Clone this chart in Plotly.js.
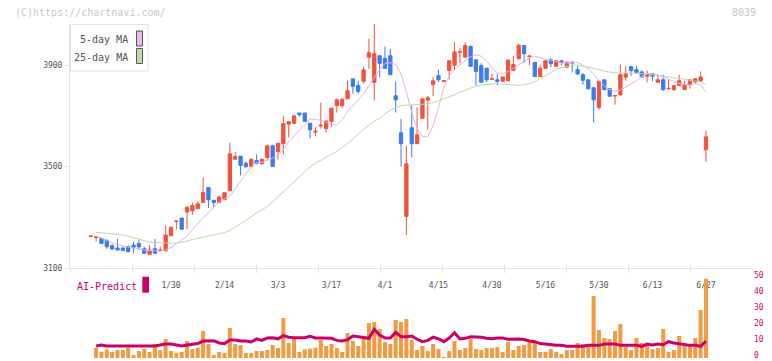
<!DOCTYPE html>
<html><head><meta charset="utf-8">
<script src="https://cdn.plot.ly/plotly-3.0.1.min.js"></script>
<style>html,body{margin:0;padding:0;background:#fff}#chart{width:772px;height:361px}</style>
</head><body><div id="chart"></div>
<script>
const dates = ['1/8','1/9','1/10','1/14','1/15','1/16','1/17','1/20','1/21','1/22','1/23','1/24','1/27','1/28','1/29','1/30','1/31',
'2/3','2/4','2/5','2/6','2/7','2/10','2/12','2/13','2/14','2/17','2/18','2/19','2/20','2/21','2/25','2/26','2/27','2/28',
'3/3','3/4','3/5','3/6','3/7','3/10','3/11','3/12','3/13','3/14','3/17','3/18','3/19','3/21','3/24','3/25','3/26','3/27','3/28','3/31',
'4/1','4/2','4/3','4/4','4/7','4/8','4/9','4/10','4/11','4/14','4/15','4/16','4/17','4/18','4/21','4/22','4/23','4/24','4/25','4/28','4/30',
'5/1','5/2','5/7','5/8','5/9','5/12','5/13','5/14','5/15','5/16','5/19','5/20','5/21','5/22','5/23','5/26','5/27','5/28','5/29','5/30',
'6/2','6/3','6/4','6/5','6/6','6/9','6/10','6/11','6/12','6/13','6/16','6/17','6/18','6/19','6/20','6/23','6/24','6/25','6/26','6/27'];

const tickDates = ['1/30','2/14','3/3','3/17','4/1','4/15','4/30','5/16','5/30','6/13','6/27'];

const open = [3224,3220,3217,3210,3188,3179,3179,3184,3190,3197, 3176,3154,3176,3168,3168,3227,3283,3297,3321,3326,
3334,3358,3417,3367,3358,3369,3405,3529,3541,3513, 3500,3524,3512,3536,3582,3559,3590,3667,3670,3711,
3711,3671,3636,3660,3650,3678,3740,3740,3767,3846, 3820,3836,3931,3832,3937,3927,3937,3779,3633,3303,
3653,3590,3690,3762,3823,3858,3836,3879,3899,3951, 3931,3974,3921,3898,3888,3844,3842,3836,3838,3879,
3925,3977,3934,3911,3855,3887,3921,3895,3917,3892, 3912,3882,3862,3842,3811,3733,3842,3807,3778,3783,
3853,3894,3882,3873,3856,3866,3832,3842,3806,3803, 3819,3803,3823,3833,3838,3566];

const close = [3226,3223,3197,3184,3175,3171,3169,3165,3182,3183, 3158,3171,3158,3171,3230,3261,3285,3253,3340,3346,
3353,3397,3369,3358,3380,3397,3550,3540,3504,3500, 3529,3512,3529,3582,3500,3592,3669,3677,3700,3704,
3678,3645,3639,3663,3680,3730,3763,3766,3799,3816, 3796,3881,3949,3945,3907,3887,3862,3763,3590,3511,
3590,3625,3767,3771,3838,3842,3838,3917,3952,3953, 3977,3895,3875,3832,3842,3846,3836,3853,3919,3902,
3977,3945,3936,3855,3888,3917,3906,3917,3912,3912, 3908,3865,3840,3807,3763,3836,3803,3777,3780,3862,
3866,3878,3871,3853,3866,3856,3842,3803,3808,3819, 3838,3823,3842,3846,3853,3617];

const high = [3227,3224,3217,3211,3194,3215,3180,3190,3204,3210, 3184,3190,3215,3184,3267,3261,3285,3297,3340,3358,
3363,3457,3417,3367,3386,3397,3594,3557,3541,3520, 3529,3548,3529,3587,3586,3592,3700,3677,3700,3711,
3711,3671,3656,3752,3680,3730,3769,3766,3839,3846, 3839,3894,4004,4064,3937,3973,3965,3835,3688,3582,
3740,3733,3767,3778,3853,3882,3838,3917,3991,3967, 3989,3977,3921,3908,3888,3866,3866,3853,3924,3937,
3985,3977,3936,3911,3902,3917,3928,3917,3917,3912, 3912,3898,3869,3842,3811,3840,3842,3807,3780,3902,
3895,3894,3898,3879,3878,3866,3862,3862,3845,3819, 3862,3838,3842,3846,3875,3641];

const low = [3223,3205,3194,3176,3171,3170,3168,3160,3158,3171, 3155,3154,3157,3168,3168,3227,3253,3253,3253,3309,
3334,3358,3336,3342,3358,3369,3405,3529,3465,3494, 3500,3509,3505,3527,3500,3527,3548,3615,3670,3697,
3678,3611,3619,3650,3634,3656,3713,3731,3767,3787, 3787,3827,3885,3761,3852,3887,3862,3713,3500,3230,
3536,3590,3690,3645,3777,3833,3836,3842,3879,3907, 3931,3895,3819,3832,3832,3844,3820,3836,3836,3879,
3925,3908,3899,3855,3855,3887,3891,3893,3899,3888, 3871,3862,3823,3803,3674,3724,3800,3777,3744,3779,
3838,3858,3871,3853,3832,3836,3832,3799,3806,3800, 3819,3803,3807,3829,3833,3519];

const ma5 = [null,3226,3217,3207,3199,3191,3187,3183,3178,3173, 3171,3169,3167,3167,3171,3181,3195,3211,3226,3250,
3276,3297,3317,3341,3361,3372,3384,3412,3444,3471, 3499,3515,3517,3524,3533,3546,3566,3598,3621,3641,
3665,3688,3686,3682,3675,3667,3663,3684,3716,3740, 3763,3787,3819,3850,3882,3906,3910,3902,3866,3795,
3712,3649,3619,3617,3661,3732,3811,3858,3882,3900, 3917,3933,3941,3935,3917,3890,3868,3868,3874,3886,
3902,3913,3929,3935,3929,3925,3921,3915,3908,3908, 3910,3910,3900,3886,3864,3838,3817,3803,3797,3801,
3813,3825,3838,3856,3866,3865,3862,3852,3844,3835, 3827,3823,3821,3827,3823,3794];

const ma25 = [null,3241,3239,3237,3236,3234,3230,3225,3220,3215, 3208,3202,3200,3198,3198,3198,3198,3201,3208,3212,
3217,3221,3225,3229,3233,3239,3248,3260,3274,3288, 3303,3317,3329,3343,3361,3382,3402,3420,3440,3459,
3479,3499,3513,3525,3534,3546,3560,3576,3590,3607, 3629,3649,3665,3679,3690,3708,3722,3732,3740,3742,
3744,3745,3746,3747,3752,3760,3765,3773,3783,3793, 3802,3809,3817,3821,3823,3825,3827,3825,3823,3821,
3820,3823,3827,3835,3846,3856,3870,3884,3890,3896, 3900,3900,3896,3892,3887,3882,3876,3872,3869,3869,
3869,3869,3868,3867,3866,3863,3860,3856,3853,3850, 3848,3845,3841,3837,3833,3825];

const volume = [null,6.25,3.96,5.4,3.75,5.0,5.0,6.46,1.9,4.4, 5.6,3.75,8.75,5.0,11.9,4.4,3.1,3.75,10.6,5.6,
6.46,16.9,8.75,1.9,3.75,3.1,18.75,8.75,8.1,3.1, 3.1,4.4,4.4,5.0,8.1,6.25,25,9.4,11.9,3.75,
5.4,5.8,6.46,11.25,7.5,8.75,6.25,3.75,15.6,10.6, 7.5,13.75,21.9,22.5,18.1,10,8.75,23.75,22.5,24.4,
11.25,5.0,7.5,4.4,8.75,5.6,0.8,4.4,10.6,5.0, 6.25,11.9,5.6,5.0,6.25,6.25,6.9,3.75,10,5.0,
7.5,8.1,10.6,10.6,3.75,3.75,5.6,3.75,2.5,5.0, 5.0,9.4,8.75,8.1,38.75,17.5,12.5,11.9,16.9,21.25,
6.9,5.0,12.5,9.4,9.4,5.6,6.25,18.1,3.75,5.0, 13.75,9.4,7.5,12.5,30,49.5];

const aiPredict = [null,7.5,8.1,7.5,7.5,7.5,7.5,7.5,7.5,7.5, 7.5,7.5,7.5,8.1,8.75,8.75,8.1,7.5,8.1,8.4,
9.0,10.6,10.8,10.8,9.4,9.0,11.25,11.25,10.6,10.6, 10.0,11.9,11.0,12.5,12.7,12.0,14.0,13.0,12.7,12.7,
12.7,13.5,12.5,12.5,12.3,12.3,11.0,10.6,11.5,13.75, 13.3,12.7,12.3,17.9,14.4,12.5,12.5,16.0,13.3,13.3,
13.75,11.7,10.2,11.0,13.0,12.0,10.2,12.5,15.8,11.9, 12.3,13.3,13.3,13.0,12.3,12.0,12.5,12.5,11.7,11.9,
11.9,11.5,10.6,10.2,9.0,8.75,8.3,7.9,7.9,7.3, 7.3,7.3,7.3,7.9,7.9,7.9,8.75,8.75,8.75,7.9,
7.9,7.9,7.9,7.3,8.75,8.1,8.75,8.3,10.2,9.4, 8.75,8.3,7.9,7.9,7.3,10.6];

const priceTicks = [3100, 3500, 3900];
const volumeTicks = [0, 10, 20, 30, 40, 50];

// ---- styling ----
const RED = '#f0533d', BLUE = '#3e7cec', ORANGE = '#f39a44', MAGENTA = '#cc0066';
const PINK = '#e6b2ea', GREEN = '#b5dba6', AXIS = '#e2e2e2';
const MONO = 'DejaVu Sans Mono, Liberation Mono, monospace';

// pixel helpers for decorations (plot area 70..753 x, 24..361 y)
const L = 70, R = 753, T = 24, B = 361;
const px = x => (x - L) / (R - L);
const py = y => (B - y) / (B - T);

const traces = [
  { type: 'candlestick', x: dates, open: open, high: high, low: low, close: close,
    xaxis: 'x', yaxis: 'y', whiskerwidth: 0, hoverinfo: 'skip', showlegend: false,
    increasing: { line: { color: RED, width: 1 }, fillcolor: RED },
    decreasing: { line: { color: BLUE, width: 1 }, fillcolor: BLUE } },
  { type: 'scatter', mode: 'lines', x: dates, y: ma5, xaxis: 'x', yaxis: 'y',
    line: { color: PINK, width: 1 }, hoverinfo: 'skip', showlegend: false },
  { type: 'scatter', mode: 'lines', x: dates, y: ma25, xaxis: 'x', yaxis: 'y',
    line: { color: GREEN, width: 1 }, hoverinfo: 'skip', showlegend: false },
  { type: 'bar', x: dates, y: volume, xaxis: 'x2', yaxis: 'y2',
    marker: { color: ORANGE, line: { width: 0 } }, hoverinfo: 'skip', showlegend: false },
  { type: 'scatter', mode: 'lines', x: dates, y: aiPredict, xaxis: 'x2', yaxis: 'y2',
    line: { color: MAGENTA, width: 3 }, hoverinfo: 'skip', showlegend: false },
  { type: 'scatter', mode: 'markers', x: [], y: [], xaxis: 'x3', yaxis: 'y', showlegend: false },
  { type: 'scatter', mode: 'markers', x: [], y: [], xaxis: 'x4', yaxis: 'y', showlegend: false }
];

const gridTicks = [0,1,2,3,4,5,6,7,8,9,10,11];

const layout = {
  width: 772, height: 361,
  margin: { l: L, r: 772 - R, t: T, b: 0, pad: 0 },
  paper_bgcolor: '#ffffff', plot_bgcolor: '#ffffff',
  showlegend: false, boxgap: 0.12, bargap: 0.25,
  font: { family: MONO, size: 8, color: '#555555' },
  xaxis: { type: 'category', range: [-3.88, 123.79], domain: [0, 1], anchor: 'y',
    rangeslider: { visible: false }, showgrid: false, zeroline: false,
    showline: true, linecolor: AXIS, linewidth: 1, ticks: '',
    tickmode: 'array', tickvals: tickDates, ticktext: tickDates,
    tickfont: { family: MONO, size: 8, color: '#555555' }, ticklabelstandoff: 9, fixedrange: true },
  yaxis: { domain: [py(268), 1], range: [3100, 4062], anchor: 'x',
    tickmode: 'array', tickvals: priceTicks, ticks: 'outside', ticklen: 5, tickcolor: AXIS,
    showline: true, linecolor: AXIS, linewidth: 1, showgrid: false, zeroline: false,
    tickfont: { family: MONO, size: 8, color: '#555555' } },
  xaxis2: { matches: 'x', type: 'category', anchor: 'y2', domain: [0, 1], showticklabels: false, ticks: '',
    showline: false, showgrid: false, zeroline: false },
  yaxis2: { domain: [py(358), py(278)], range: [0, 50], side: 'right', anchor: 'x2',
    tickmode: 'array', tickvals: volumeTicks, ticks: '', showline: false, showgrid: false, zeroline: false,
    ticklabeloverflow: 'allow', ticklabelshift: -3,
    tickfont: { family: MONO, size: 8, color: MAGENTA } },
  xaxis3: { overlaying: 'x', anchor: 'y', range: [0, 11], tickmode: 'array', tickvals: gridTicks,
    ticks: 'outside', ticklen: 4, tickcolor: AXIS, showticklabels: false, showgrid: false,
    zeroline: false, showline: false },
  xaxis4: { overlaying: 'x', anchor: 'y', range: [0, 11], tickmode: 'array', tickvals: gridTicks,
    ticks: 'inside', ticklen: 3, tickcolor: AXIS, showticklabels: false, showgrid: false,
    zeroline: false, showline: false },
  shapes: [
    { type: 'rect', xref: 'paper', yref: 'paper', x0: px(70.5), x1: px(148), y0: py(24.5), y1: py(71),
      line: { color: AXIS, width: 1 }, fillcolor: '#ffffff', layer: 'above' },
    { type: 'rect', xref: 'paper', yref: 'paper', x0: px(136.5), x1: px(142.5), y0: py(31), y1: py(46),
      line: { color: '#555555', width: 1 }, fillcolor: '#ecb8ee', layer: 'above' },
    { type: 'rect', xref: 'paper', yref: 'paper', x0: px(136.5), x1: px(142.5), y0: py(48.5), y1: py(63.5),
      line: { color: '#555555', width: 1 }, fillcolor: '#bcdcb0', layer: 'above' },
    { type: 'rect', xref: 'paper', yref: 'paper', x0: px(142.3), x1: px(149), y0: py(276.7), y1: py(292.7),
      line: { width: 0 }, fillcolor: MAGENTA, layer: 'above' }
  ],
  annotations: [
    { xref: 'paper', yref: 'paper', x: px(13), y: py(12.7), xanchor: 'left', yanchor: 'middle',
      text: '(C)https://chartnavi.com/', showarrow: false, font: { family: MONO, size: 10, color: '#c8c8c8' } },
    { xref: 'paper', yref: 'paper', x: px(758), y: py(12.5), xanchor: 'right', yanchor: 'middle',
      text: '8039', showarrow: false, font: { family: MONO, size: 10, color: '#c8c8c8' } },
    { xref: 'paper', yref: 'paper', x: px(129.5), y: py(40), xanchor: 'right', yanchor: 'middle',
      text: '5-day MA', showarrow: false, font: { family: MONO, size: 10, color: '#555555' } },
    { xref: 'paper', yref: 'paper', x: px(129.5), y: py(57), xanchor: 'right', yanchor: 'middle',
      text: '25-day MA', showarrow: false, font: { family: MONO, size: 10, color: '#555555' } },
    { xref: 'paper', yref: 'paper', x: px(74.5), y: py(286), xanchor: 'left', yanchor: 'middle',
      text: 'AI-Predict', showarrow: false, font: { family: MONO, size: 10, color: MAGENTA } }
  ]
};

Plotly.newPlot('chart', traces, layout, { displayModeBar: false, staticPlot: true });
</script>
</body></html>
